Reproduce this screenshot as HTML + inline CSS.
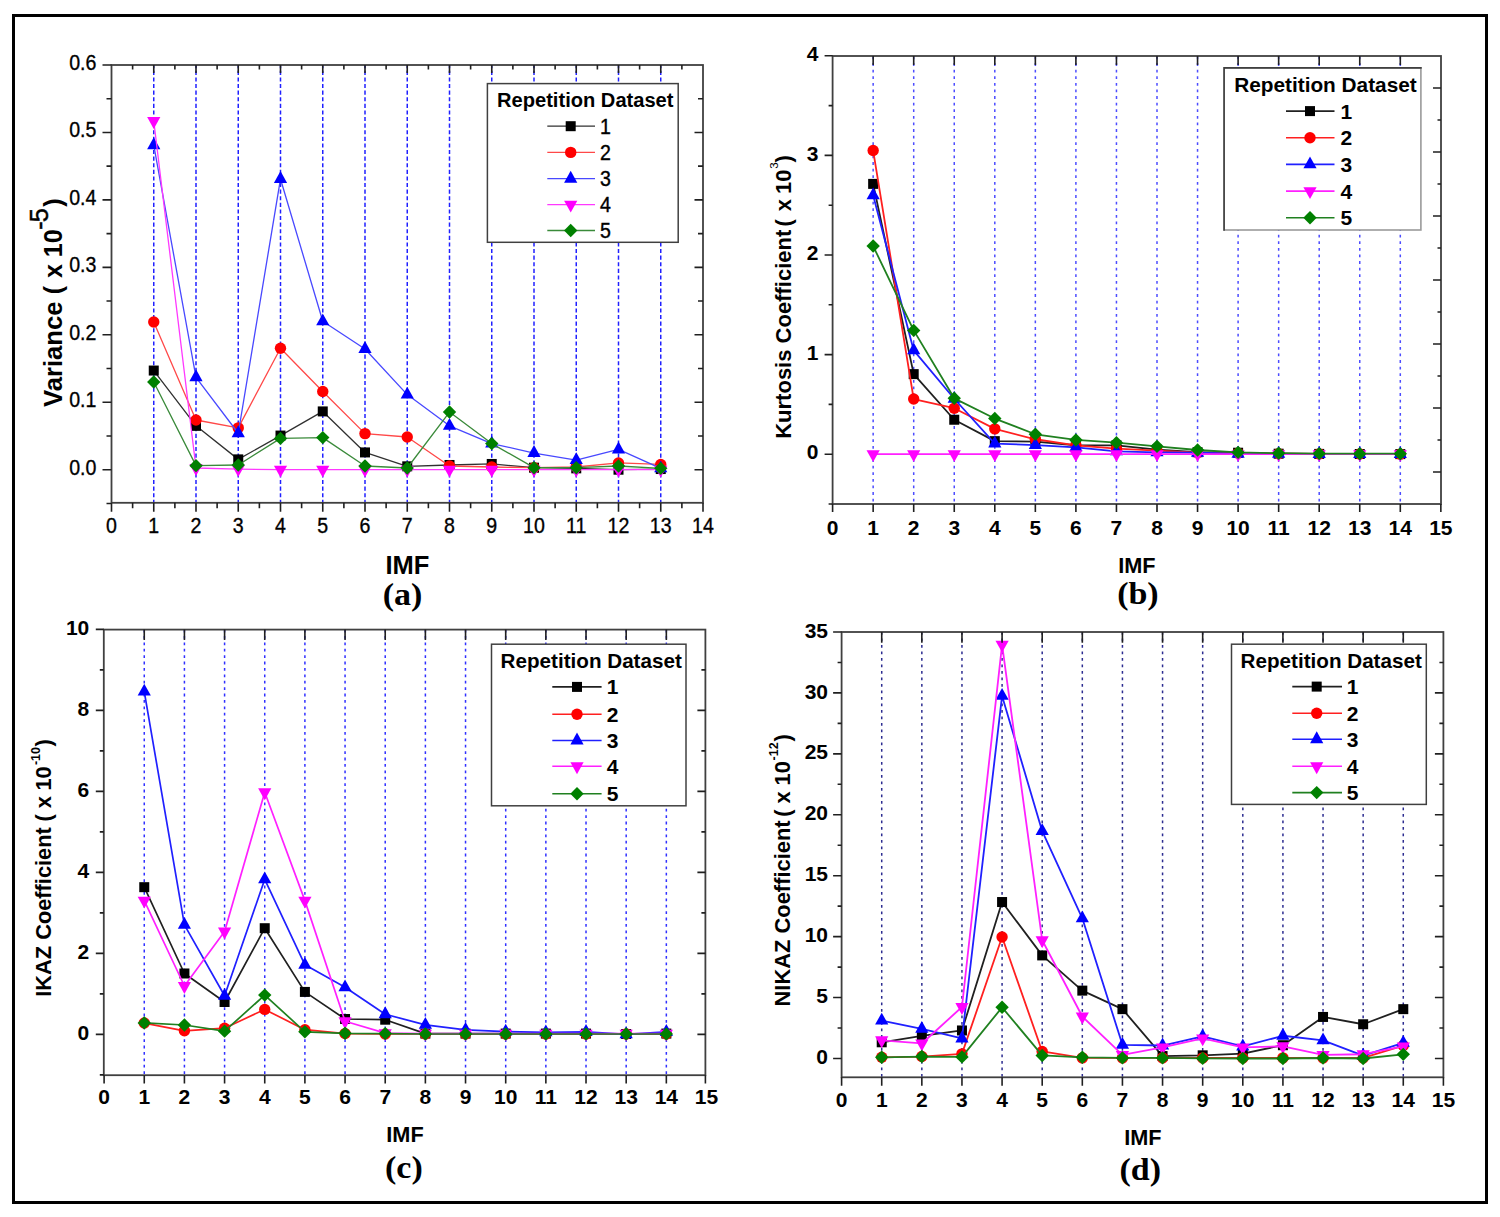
<!DOCTYPE html>
<html><head><meta charset="utf-8"><title>IMF statistics</title>
<style>html,body{margin:0;padding:0;background:#fff;overflow:hidden;}svg{display:block;}</style></head><body>
<svg width="1500" height="1217" viewBox="0 0 1500 1217" font-family='"Liberation Sans", sans-serif' fill="#000">
<rect width="1500" height="1217" fill="#fff"/>
<rect x="13.5" y="15.5" width="1473" height="1187" fill="none" stroke="#000" stroke-width="3"/>
<line x1="153.75" y1="65" x2="153.75" y2="502.8" stroke="#2020ff" stroke-width="1.5" stroke-dasharray="4.1 2.5" stroke-dashoffset="0.8"/>
<line x1="196" y1="65" x2="196" y2="502.8" stroke="#2020ff" stroke-width="1.5" stroke-dasharray="4.1 2.5" stroke-dashoffset="0.8"/>
<line x1="238.25" y1="65" x2="238.25" y2="502.8" stroke="#2020ff" stroke-width="1.5" stroke-dasharray="4.1 2.5" stroke-dashoffset="0.8"/>
<line x1="280.5" y1="65" x2="280.5" y2="502.8" stroke="#2020ff" stroke-width="1.5" stroke-dasharray="4.1 2.5" stroke-dashoffset="0.8"/>
<line x1="322.75" y1="65" x2="322.75" y2="502.8" stroke="#2020ff" stroke-width="1.5" stroke-dasharray="4.1 2.5" stroke-dashoffset="0.8"/>
<line x1="365" y1="65" x2="365" y2="502.8" stroke="#2020ff" stroke-width="1.5" stroke-dasharray="4.1 2.5" stroke-dashoffset="0.8"/>
<line x1="407.25" y1="65" x2="407.25" y2="502.8" stroke="#2020ff" stroke-width="1.5" stroke-dasharray="4.1 2.5" stroke-dashoffset="0.8"/>
<line x1="449.5" y1="65" x2="449.5" y2="502.8" stroke="#2020ff" stroke-width="1.5" stroke-dasharray="4.1 2.5" stroke-dashoffset="0.8"/>
<line x1="491.75" y1="65" x2="491.75" y2="502.8" stroke="#2020ff" stroke-width="1.5" stroke-dasharray="4.1 2.5" stroke-dashoffset="0.8"/>
<line x1="534" y1="65" x2="534" y2="502.8" stroke="#2020ff" stroke-width="1.5" stroke-dasharray="4.1 2.5" stroke-dashoffset="0.8"/>
<line x1="576.25" y1="65" x2="576.25" y2="502.8" stroke="#2020ff" stroke-width="1.5" stroke-dasharray="4.1 2.5" stroke-dashoffset="0.8"/>
<line x1="618.5" y1="65" x2="618.5" y2="502.8" stroke="#2020ff" stroke-width="1.5" stroke-dasharray="4.1 2.5" stroke-dashoffset="0.8"/>
<line x1="660.75" y1="65" x2="660.75" y2="502.8" stroke="#2020ff" stroke-width="1.5" stroke-dasharray="4.1 2.5" stroke-dashoffset="0.8"/>
<path d="M153.75 370.55L196 425.86L238.25 459.38L280.5 435.57L322.75 411.42L365 452.43L407.25 466.33L449.5 464.98L491.75 463.97L534 467.68L576.25 468.35L618.5 469.7L660.75 469.03" fill="none" stroke="#303030" stroke-width="1.3" stroke-linejoin="round"/>
<rect x="148.75" y="365.55" width="10" height="10" fill="#000000"/>
<rect x="191" y="420.86" width="10" height="10" fill="#000000"/>
<rect x="233.25" y="454.38" width="10" height="10" fill="#000000"/>
<rect x="275.5" y="430.57" width="10" height="10" fill="#000000"/>
<rect x="317.75" y="406.42" width="10" height="10" fill="#000000"/>
<rect x="360" y="447.43" width="10" height="10" fill="#000000"/>
<rect x="402.25" y="461.33" width="10" height="10" fill="#000000"/>
<rect x="444.5" y="459.98" width="10" height="10" fill="#000000"/>
<rect x="486.75" y="458.97" width="10" height="10" fill="#000000"/>
<rect x="529" y="462.68" width="10" height="10" fill="#000000"/>
<rect x="571.25" y="463.35" width="10" height="10" fill="#000000"/>
<rect x="613.5" y="464.7" width="10" height="10" fill="#000000"/>
<rect x="655.75" y="464.03" width="10" height="10" fill="#000000"/>
<path d="M153.75 321.98L196 419.99L238.25 427.88L280.5 348.29L322.75 391.46L365 433.61L407.25 436.99L449.5 465.99L491.75 467L534 467.68L576.25 467L618.5 462.95L660.75 464.44" fill="none" stroke="#ff4848" stroke-width="1.3" stroke-linejoin="round"/>
<circle cx="153.75" cy="321.98" r="5.7" fill="#ff0000"/>
<circle cx="196" cy="419.99" r="5.7" fill="#ff0000"/>
<circle cx="238.25" cy="427.88" r="5.7" fill="#ff0000"/>
<circle cx="280.5" cy="348.29" r="5.7" fill="#ff0000"/>
<circle cx="322.75" cy="391.46" r="5.7" fill="#ff0000"/>
<circle cx="365" cy="433.61" r="5.7" fill="#ff0000"/>
<circle cx="407.25" cy="436.99" r="5.7" fill="#ff0000"/>
<circle cx="449.5" cy="465.99" r="5.7" fill="#ff0000"/>
<circle cx="491.75" cy="467" r="5.7" fill="#ff0000"/>
<circle cx="534" cy="467.68" r="5.7" fill="#ff0000"/>
<circle cx="576.25" cy="467" r="5.7" fill="#ff0000"/>
<circle cx="618.5" cy="462.95" r="5.7" fill="#ff0000"/>
<circle cx="660.75" cy="464.44" r="5.7" fill="#ff0000"/>
<path d="M153.75 145.24L196 377.27L238.25 433.25L280.5 178.97L322.75 321.29L365 348.94L407.25 394.6L449.5 425.83L491.75 443.57L534 453.02L576.25 460.03L618.5 449.44L660.75 468.35" fill="none" stroke="#4848ff" stroke-width="1.3" stroke-linejoin="round"/>
<path d="M153.75 137.34L160.35 149.19L147.15 149.19Z" fill="#0000ff"/>
<path d="M196 369.37L202.6 381.22L189.4 381.22Z" fill="#0000ff"/>
<path d="M238.25 425.35L244.85 437.2L231.65 437.2Z" fill="#0000ff"/>
<path d="M280.5 171.07L287.1 182.92L273.9 182.92Z" fill="#0000ff"/>
<path d="M322.75 313.39L329.35 325.24L316.15 325.24Z" fill="#0000ff"/>
<path d="M365 341.04L371.6 352.89L358.4 352.89Z" fill="#0000ff"/>
<path d="M407.25 386.7L413.85 398.55L400.65 398.55Z" fill="#0000ff"/>
<path d="M449.5 417.93L456.1 429.78L442.9 429.78Z" fill="#0000ff"/>
<path d="M491.75 435.67L498.35 447.52L485.15 447.52Z" fill="#0000ff"/>
<path d="M534 445.12L540.6 456.97L527.4 456.97Z" fill="#0000ff"/>
<path d="M576.25 452.13L582.85 463.98L569.65 463.98Z" fill="#0000ff"/>
<path d="M618.5 441.54L625.1 453.39L611.9 453.39Z" fill="#0000ff"/>
<path d="M660.75 460.45L667.35 472.3L654.15 472.3Z" fill="#0000ff"/>
<path d="M153.75 121.01L196 468.01L238.25 469.03L280.5 469.7L322.75 469.7L365 469.7L407.25 469.7L449.5 469.7L491.75 469.7L534 469.7L576.25 469.7L618.5 469.7L660.75 469.7" fill="none" stroke="#ff38ff" stroke-width="1.3" stroke-linejoin="round"/>
<path d="M147.15 117.06L160.35 117.06L153.75 128.91Z" fill="#ff00ff"/>
<path d="M189.4 464.06L202.6 464.06L196 475.91Z" fill="#ff00ff"/>
<path d="M231.65 465.08L244.85 465.08L238.25 476.93Z" fill="#ff00ff"/>
<path d="M273.9 465.75L287.1 465.75L280.5 477.6Z" fill="#ff00ff"/>
<path d="M316.15 465.75L329.35 465.75L322.75 477.6Z" fill="#ff00ff"/>
<path d="M358.4 465.75L371.6 465.75L365 477.6Z" fill="#ff00ff"/>
<path d="M400.65 465.75L413.85 465.75L407.25 477.6Z" fill="#ff00ff"/>
<path d="M442.9 465.75L456.1 465.75L449.5 477.6Z" fill="#ff00ff"/>
<path d="M485.15 465.75L498.35 465.75L491.75 477.6Z" fill="#ff00ff"/>
<path d="M527.4 465.75L540.6 465.75L534 477.6Z" fill="#ff00ff"/>
<path d="M569.65 465.75L582.85 465.75L576.25 477.6Z" fill="#ff00ff"/>
<path d="M611.9 465.75L625.1 465.75L618.5 477.6Z" fill="#ff00ff"/>
<path d="M654.15 465.75L667.35 465.75L660.75 477.6Z" fill="#ff00ff"/>
<path d="M153.75 382.01L196 465.65L238.25 464.98L280.5 438.4L322.75 437.59L365 465.99L407.25 468.01L449.5 412.03L491.75 443.6L534 467.68L576.25 467.68L618.5 465.99L660.75 468.35" fill="none" stroke="#3a8a3a" stroke-width="1.3" stroke-linejoin="round"/>
<path d="M153.75 375.31L160.45 382.01L153.75 388.71L147.05 382.01Z" fill="#008000"/>
<path d="M196 458.95L202.7 465.65L196 472.35L189.3 465.65Z" fill="#008000"/>
<path d="M238.25 458.28L244.95 464.98L238.25 471.68L231.55 464.98Z" fill="#008000"/>
<path d="M280.5 431.7L287.2 438.4L280.5 445.1L273.8 438.4Z" fill="#008000"/>
<path d="M322.75 430.89L329.45 437.59L322.75 444.29L316.05 437.59Z" fill="#008000"/>
<path d="M365 459.29L371.7 465.99L365 472.69L358.3 465.99Z" fill="#008000"/>
<path d="M407.25 461.31L413.95 468.01L407.25 474.71L400.55 468.01Z" fill="#008000"/>
<path d="M449.5 405.33L456.2 412.03L449.5 418.73L442.8 412.03Z" fill="#008000"/>
<path d="M491.75 436.9L498.45 443.6L491.75 450.3L485.05 443.6Z" fill="#008000"/>
<path d="M534 460.98L540.7 467.68L534 474.38L527.3 467.68Z" fill="#008000"/>
<path d="M576.25 460.98L582.95 467.68L576.25 474.38L569.55 467.68Z" fill="#008000"/>
<path d="M618.5 459.29L625.2 465.99L618.5 472.69L611.8 465.99Z" fill="#008000"/>
<path d="M660.75 461.65L667.45 468.35L660.75 475.05L654.05 468.35Z" fill="#008000"/>
<rect x="111.5" y="65" width="591.5" height="437.8" fill="none" stroke="#404040" stroke-width="1.8"/>
<path d="M111.5 502.8v9M153.75 502.8v9M153.75 65v8M196 502.8v9M196 65v8M238.25 502.8v9M238.25 65v8M280.5 502.8v9M280.5 65v8M322.75 502.8v9M322.75 65v8M365 502.8v9M365 65v8M407.25 502.8v9M407.25 65v8M449.5 502.8v9M449.5 65v8M491.75 502.8v9M491.75 65v8M534 502.8v9M534 65v8M576.25 502.8v9M576.25 65v8M618.5 502.8v9M618.5 65v8M660.75 502.8v9M660.75 65v8M703 502.8v9M132.62 502.8v5.5M132.62 65v4.6M174.88 502.8v5.5M174.88 65v4.6M217.12 502.8v5.5M217.12 65v4.6M259.38 502.8v5.5M259.38 65v4.6M301.62 502.8v5.5M301.62 65v4.6M343.88 502.8v5.5M343.88 65v4.6M386.12 502.8v5.5M386.12 65v4.6M428.38 502.8v5.5M428.38 65v4.6M470.62 502.8v5.5M470.62 65v4.6M512.88 502.8v5.5M512.88 65v4.6M555.12 502.8v5.5M555.12 65v4.6M597.38 502.8v5.5M597.38 65v4.6M639.62 502.8v5.5M639.62 65v4.6M681.88 502.8v5.5M681.88 65v4.6M111.5 469.7h-9M111.5 402.25h-9M111.5 334.8h-9M111.5 267.35h-9M111.5 199.9h-9M111.5 132.45h-9M111.5 65h-9M111.5 503.43h-5M111.5 435.97h-5M111.5 368.52h-5M111.5 301.07h-5M111.5 233.62h-5M111.5 166.17h-5M111.5 98.72h-5M703 469.7h-8.5M703 402.25h-8.5M703 334.8h-8.5M703 267.35h-8.5M703 199.9h-8.5M703 132.45h-8.5M703 435.97h-5M703 368.52h-5M703 301.07h-5M703 233.62h-5M703 166.17h-5M703 98.72h-5" stroke="#202020" stroke-width="1.6" fill="none"/>
<text transform="translate(111.5 533.3) scale(0.89 1)" font-size="22" font-weight="normal" stroke="#000" stroke-width="0.35" text-anchor="middle">0</text>
<text transform="translate(153.75 533.3) scale(0.89 1)" font-size="22" font-weight="normal" stroke="#000" stroke-width="0.35" text-anchor="middle">1</text>
<text transform="translate(196 533.3) scale(0.89 1)" font-size="22" font-weight="normal" stroke="#000" stroke-width="0.35" text-anchor="middle">2</text>
<text transform="translate(238.25 533.3) scale(0.89 1)" font-size="22" font-weight="normal" stroke="#000" stroke-width="0.35" text-anchor="middle">3</text>
<text transform="translate(280.5 533.3) scale(0.89 1)" font-size="22" font-weight="normal" stroke="#000" stroke-width="0.35" text-anchor="middle">4</text>
<text transform="translate(322.75 533.3) scale(0.89 1)" font-size="22" font-weight="normal" stroke="#000" stroke-width="0.35" text-anchor="middle">5</text>
<text transform="translate(365 533.3) scale(0.89 1)" font-size="22" font-weight="normal" stroke="#000" stroke-width="0.35" text-anchor="middle">6</text>
<text transform="translate(407.25 533.3) scale(0.89 1)" font-size="22" font-weight="normal" stroke="#000" stroke-width="0.35" text-anchor="middle">7</text>
<text transform="translate(449.5 533.3) scale(0.89 1)" font-size="22" font-weight="normal" stroke="#000" stroke-width="0.35" text-anchor="middle">8</text>
<text transform="translate(491.75 533.3) scale(0.89 1)" font-size="22" font-weight="normal" stroke="#000" stroke-width="0.35" text-anchor="middle">9</text>
<text transform="translate(534 533.3) scale(0.89 1)" font-size="22" font-weight="normal" stroke="#000" stroke-width="0.35" text-anchor="middle">10</text>
<text transform="translate(576.25 533.3) scale(0.89 1)" font-size="22" font-weight="normal" stroke="#000" stroke-width="0.35" text-anchor="middle">11</text>
<text transform="translate(618.5 533.3) scale(0.89 1)" font-size="22" font-weight="normal" stroke="#000" stroke-width="0.35" text-anchor="middle">12</text>
<text transform="translate(660.75 533.3) scale(0.89 1)" font-size="22" font-weight="normal" stroke="#000" stroke-width="0.35" text-anchor="middle">13</text>
<text transform="translate(703 533.3) scale(0.89 1)" font-size="22" font-weight="normal" stroke="#000" stroke-width="0.35" text-anchor="middle">14</text>
<text transform="translate(96.4 474.7) scale(0.89 1)" font-size="22" font-weight="normal" stroke="#000" stroke-width="0.35" text-anchor="end">0.0</text>
<text transform="translate(96.4 407.25) scale(0.89 1)" font-size="22" font-weight="normal" stroke="#000" stroke-width="0.35" text-anchor="end">0.1</text>
<text transform="translate(96.4 339.8) scale(0.89 1)" font-size="22" font-weight="normal" stroke="#000" stroke-width="0.35" text-anchor="end">0.2</text>
<text transform="translate(96.4 272.35) scale(0.89 1)" font-size="22" font-weight="normal" stroke="#000" stroke-width="0.35" text-anchor="end">0.3</text>
<text transform="translate(96.4 204.9) scale(0.89 1)" font-size="22" font-weight="normal" stroke="#000" stroke-width="0.35" text-anchor="end">0.4</text>
<text transform="translate(96.4 137.45) scale(0.89 1)" font-size="22" font-weight="normal" stroke="#000" stroke-width="0.35" text-anchor="end">0.5</text>
<text transform="translate(96.4 70) scale(0.89 1)" font-size="22" font-weight="normal" stroke="#000" stroke-width="0.35" text-anchor="end">0.6</text>
<text x="407.4" y="573.6" font-size="25.5" font-weight="bold" text-anchor="middle">IMF</text>
<text transform="translate(61.6 0) rotate(-90)"><tspan x="-406.88" y="0" font-size="25.6" font-weight="bold">Variance</tspan><tspan x="-294.36" y="0" font-size="25.2" font-weight="bold">(</tspan><tspan x="-277.97" y="0" font-size="25.2" font-weight="bold">x</tspan><tspan x="-257.29" y="0" font-size="25.2" font-weight="bold">10</tspan><tspan x="-229.72" y="-13.6" font-size="25.2" font-weight="normal" stroke="#000" stroke-width="0.5">-</tspan><tspan x="-222.21" y="-13.6" font-size="25.2" font-weight="normal" stroke="#000" stroke-width="0.5">5</tspan><tspan x="-206.82" y="0" font-size="25.2" font-weight="bold">)</tspan></text>
<text transform="translate(402.5 604.5) scale(1.08 1)" font-size="31.5" font-family='"Liberation Serif", serif' font-weight="bold" text-anchor="middle">(a)</text>
<rect x="487.4" y="83.6" width="190.8" height="158.7" fill="#fff" stroke="#404040" stroke-width="1.5"/>
<text x="497" y="107" font-size="20.3" font-weight="bold" textLength="176.5" lengthAdjust="spacingAndGlyphs">Repetition Dataset</text>
<line x1="547.3" y1="126.2" x2="595" y2="126.2" stroke="#303030" stroke-width="1.3"/>
<rect x="565.7" y="121.2" width="10" height="10" fill="#000000"/>
<text transform="translate(600 133.8) scale(0.89 1)" font-size="22" font-weight="normal" stroke="#000" stroke-width="0.4">1</text>
<line x1="547.3" y1="152.4" x2="595" y2="152.4" stroke="#ff4848" stroke-width="1.3"/>
<circle cx="570.7" cy="152.4" r="5.7" fill="#ff0000"/>
<text transform="translate(600 160) scale(0.89 1)" font-size="22" font-weight="normal" stroke="#000" stroke-width="0.4">2</text>
<line x1="547.3" y1="178.7" x2="595" y2="178.7" stroke="#4848ff" stroke-width="1.3"/>
<path d="M570.7 170.8L577.3 182.65L564.1 182.65Z" fill="#0000ff"/>
<text transform="translate(600 186.3) scale(0.89 1)" font-size="22" font-weight="normal" stroke="#000" stroke-width="0.4">3</text>
<line x1="547.3" y1="204.6" x2="595" y2="204.6" stroke="#ff38ff" stroke-width="1.3"/>
<path d="M564.1 200.65L577.3 200.65L570.7 212.5Z" fill="#ff00ff"/>
<text transform="translate(600 212.2) scale(0.89 1)" font-size="22" font-weight="normal" stroke="#000" stroke-width="0.4">4</text>
<line x1="547.3" y1="230.5" x2="595" y2="230.5" stroke="#3a8a3a" stroke-width="1.3"/>
<path d="M570.7 223.8L577.4 230.5L570.7 237.2L564 230.5Z" fill="#008000"/>
<text transform="translate(600 238.1) scale(0.89 1)" font-size="22" font-weight="normal" stroke="#000" stroke-width="0.4">5</text>
<line x1="873.15" y1="56" x2="873.15" y2="504" stroke="#4c4cff" stroke-width="1.5" stroke-dasharray="2.8 3.8" stroke-dashoffset="-0.5"/>
<line x1="913.7" y1="56" x2="913.7" y2="504" stroke="#4c4cff" stroke-width="1.5" stroke-dasharray="2.8 3.8" stroke-dashoffset="-0.5"/>
<line x1="954.25" y1="56" x2="954.25" y2="504" stroke="#4c4cff" stroke-width="1.5" stroke-dasharray="2.8 3.8" stroke-dashoffset="-0.5"/>
<line x1="994.8" y1="56" x2="994.8" y2="504" stroke="#4c4cff" stroke-width="1.5" stroke-dasharray="2.8 3.8" stroke-dashoffset="-0.5"/>
<line x1="1035.35" y1="56" x2="1035.35" y2="504" stroke="#4c4cff" stroke-width="1.5" stroke-dasharray="2.8 3.8" stroke-dashoffset="-0.5"/>
<line x1="1075.9" y1="56" x2="1075.9" y2="504" stroke="#4c4cff" stroke-width="1.5" stroke-dasharray="2.8 3.8" stroke-dashoffset="-0.5"/>
<line x1="1116.45" y1="56" x2="1116.45" y2="504" stroke="#4c4cff" stroke-width="1.5" stroke-dasharray="2.8 3.8" stroke-dashoffset="-0.5"/>
<line x1="1157" y1="56" x2="1157" y2="504" stroke="#4c4cff" stroke-width="1.5" stroke-dasharray="2.8 3.8" stroke-dashoffset="-0.5"/>
<line x1="1197.55" y1="56" x2="1197.55" y2="504" stroke="#4c4cff" stroke-width="1.5" stroke-dasharray="2.8 3.8" stroke-dashoffset="-0.5"/>
<line x1="1238.1" y1="56" x2="1238.1" y2="504" stroke="#4c4cff" stroke-width="1.5" stroke-dasharray="2.8 3.8" stroke-dashoffset="-0.5"/>
<line x1="1278.65" y1="56" x2="1278.65" y2="504" stroke="#4c4cff" stroke-width="1.5" stroke-dasharray="2.8 3.8" stroke-dashoffset="-0.5"/>
<line x1="1319.2" y1="56" x2="1319.2" y2="504" stroke="#4c4cff" stroke-width="1.5" stroke-dasharray="2.8 3.8" stroke-dashoffset="-0.5"/>
<line x1="1359.75" y1="56" x2="1359.75" y2="504" stroke="#4c4cff" stroke-width="1.5" stroke-dasharray="2.8 3.8" stroke-dashoffset="-0.5"/>
<line x1="1400.3" y1="56" x2="1400.3" y2="504" stroke="#4c4cff" stroke-width="1.5" stroke-dasharray="2.8 3.8" stroke-dashoffset="-0.5"/>
<path d="M873.15 183.89L913.7 374.12L954.25 419.74L994.8 441.15L1035.35 441.55L1075.9 445.24L1116.45 445.34L1157 449.72L1197.55 452.21L1238.1 452.71L1278.65 453.7L1319.2 453.9L1359.75 454L1400.3 454.1" fill="none" stroke="#202020" stroke-width="1.8" stroke-linejoin="round"/>
<rect x="868.15" y="178.89" width="10" height="10" fill="#000000"/>
<rect x="908.7" y="369.12" width="10" height="10" fill="#000000"/>
<rect x="949.25" y="414.74" width="10" height="10" fill="#000000"/>
<rect x="989.8" y="436.15" width="10" height="10" fill="#000000"/>
<rect x="1030.35" y="436.55" width="10" height="10" fill="#000000"/>
<rect x="1070.9" y="440.24" width="10" height="10" fill="#000000"/>
<rect x="1111.45" y="440.34" width="10" height="10" fill="#000000"/>
<rect x="1152" y="444.72" width="10" height="10" fill="#000000"/>
<rect x="1192.55" y="447.21" width="10" height="10" fill="#000000"/>
<rect x="1233.1" y="447.71" width="10" height="10" fill="#000000"/>
<rect x="1273.65" y="448.7" width="10" height="10" fill="#000000"/>
<rect x="1314.2" y="448.9" width="10" height="10" fill="#000000"/>
<rect x="1354.75" y="449" width="10" height="10" fill="#000000"/>
<rect x="1395.3" y="449.1" width="10" height="10" fill="#000000"/>
<path d="M873.15 150.52L913.7 399.02L954.25 408.18L994.8 428.9L1035.35 439.26L1075.9 445.34L1116.45 448.72L1157 450.71L1197.55 452.71L1238.1 453.2L1278.65 453.7L1319.2 453.9L1359.75 454L1400.3 454.1" fill="none" stroke="#ff2020" stroke-width="1.8" stroke-linejoin="round"/>
<circle cx="873.15" cy="150.52" r="5.7" fill="#ff0000"/>
<circle cx="913.7" cy="399.02" r="5.7" fill="#ff0000"/>
<circle cx="954.25" cy="408.18" r="5.7" fill="#ff0000"/>
<circle cx="994.8" cy="428.9" r="5.7" fill="#ff0000"/>
<circle cx="1035.35" cy="439.26" r="5.7" fill="#ff0000"/>
<circle cx="1075.9" cy="445.34" r="5.7" fill="#ff0000"/>
<circle cx="1116.45" cy="448.72" r="5.7" fill="#ff0000"/>
<circle cx="1157" cy="450.71" r="5.7" fill="#ff0000"/>
<circle cx="1197.55" cy="452.71" r="5.7" fill="#ff0000"/>
<circle cx="1238.1" cy="453.2" r="5.7" fill="#ff0000"/>
<circle cx="1278.65" cy="453.7" r="5.7" fill="#ff0000"/>
<circle cx="1319.2" cy="453.9" r="5.7" fill="#ff0000"/>
<circle cx="1359.75" cy="454" r="5.7" fill="#ff0000"/>
<circle cx="1400.3" cy="454.1" r="5.7" fill="#ff0000"/>
<path d="M873.15 195.35L913.7 350.42L954.25 398.73L994.8 443.55L1035.35 445.04L1075.9 447.33L1116.45 451.31L1157 452.41L1197.55 452.71L1238.1 453.7L1278.65 453.9L1319.2 454L1359.75 454.1L1400.3 454.1" fill="none" stroke="#2020ff" stroke-width="1.8" stroke-linejoin="round"/>
<path d="M873.15 187.45L879.75 199.3L866.55 199.3Z" fill="#0000ff"/>
<path d="M913.7 342.52L920.3 354.37L907.1 354.37Z" fill="#0000ff"/>
<path d="M954.25 390.83L960.85 402.68L947.65 402.68Z" fill="#0000ff"/>
<path d="M994.8 435.65L1001.4 447.5L988.2 447.5Z" fill="#0000ff"/>
<path d="M1035.35 437.14L1041.95 448.99L1028.75 448.99Z" fill="#0000ff"/>
<path d="M1075.9 439.43L1082.5 451.28L1069.3 451.28Z" fill="#0000ff"/>
<path d="M1116.45 443.41L1123.05 455.26L1109.85 455.26Z" fill="#0000ff"/>
<path d="M1157 444.51L1163.6 456.36L1150.4 456.36Z" fill="#0000ff"/>
<path d="M1197.55 444.81L1204.15 456.66L1190.95 456.66Z" fill="#0000ff"/>
<path d="M1238.1 445.8L1244.7 457.65L1231.5 457.65Z" fill="#0000ff"/>
<path d="M1278.65 446L1285.25 457.85L1272.05 457.85Z" fill="#0000ff"/>
<path d="M1319.2 446.1L1325.8 457.95L1312.6 457.95Z" fill="#0000ff"/>
<path d="M1359.75 446.2L1366.35 458.05L1353.15 458.05Z" fill="#0000ff"/>
<path d="M1400.3 446.2L1406.9 458.05L1393.7 458.05Z" fill="#0000ff"/>
<path d="M873.15 454.2L913.7 454.2L954.25 454.2L994.8 454.2L1035.35 454.2L1075.9 454.2L1116.45 454.2L1157 454.2L1197.55 454.2L1238.1 454.2L1278.65 454.2L1319.2 454.2L1359.75 454.2L1400.3 454.2" fill="none" stroke="#ff20ff" stroke-width="1.8" stroke-linejoin="round"/>
<path d="M866.55 450.25L879.75 450.25L873.15 462.1Z" fill="#ff00ff"/>
<path d="M907.1 450.25L920.3 450.25L913.7 462.1Z" fill="#ff00ff"/>
<path d="M947.65 450.25L960.85 450.25L954.25 462.1Z" fill="#ff00ff"/>
<path d="M988.2 450.25L1001.4 450.25L994.8 462.1Z" fill="#ff00ff"/>
<path d="M1028.75 450.25L1041.95 450.25L1035.35 462.1Z" fill="#ff00ff"/>
<path d="M1069.3 450.25L1082.5 450.25L1075.9 462.1Z" fill="#ff00ff"/>
<path d="M1109.85 450.25L1123.05 450.25L1116.45 462.1Z" fill="#ff00ff"/>
<path d="M1150.4 450.25L1163.6 450.25L1157 462.1Z" fill="#ff00ff"/>
<path d="M1190.95 450.25L1204.15 450.25L1197.55 462.1Z" fill="#ff00ff"/>
<path d="M1231.5 450.25L1244.7 450.25L1238.1 462.1Z" fill="#ff00ff"/>
<path d="M1272.05 450.25L1285.25 450.25L1278.65 462.1Z" fill="#ff00ff"/>
<path d="M1312.6 450.25L1325.8 450.25L1319.2 462.1Z" fill="#ff00ff"/>
<path d="M1353.15 450.25L1366.35 450.25L1359.75 462.1Z" fill="#ff00ff"/>
<path d="M1393.7 450.25L1406.9 450.25L1400.3 462.1Z" fill="#ff00ff"/>
<path d="M873.15 246.04L913.7 330.4L954.25 398.32L994.8 418.54L1035.35 434.28L1075.9 439.96L1116.45 442.65L1157 446.33L1197.55 450.02L1238.1 452.41L1278.65 453.2L1319.2 453.6L1359.75 453.7L1400.3 453.7" fill="none" stroke="#208020" stroke-width="1.8" stroke-linejoin="round"/>
<path d="M873.15 239.34L879.85 246.04L873.15 252.74L866.45 246.04Z" fill="#008000"/>
<path d="M913.7 323.7L920.4 330.4L913.7 337.1L907 330.4Z" fill="#008000"/>
<path d="M954.25 391.62L960.95 398.32L954.25 405.02L947.55 398.32Z" fill="#008000"/>
<path d="M994.8 411.84L1001.5 418.54L994.8 425.24L988.1 418.54Z" fill="#008000"/>
<path d="M1035.35 427.58L1042.05 434.28L1035.35 440.98L1028.65 434.28Z" fill="#008000"/>
<path d="M1075.9 433.26L1082.6 439.96L1075.9 446.66L1069.2 439.96Z" fill="#008000"/>
<path d="M1116.45 435.95L1123.15 442.65L1116.45 449.35L1109.75 442.65Z" fill="#008000"/>
<path d="M1157 439.63L1163.7 446.33L1157 453.03L1150.3 446.33Z" fill="#008000"/>
<path d="M1197.55 443.32L1204.25 450.02L1197.55 456.72L1190.85 450.02Z" fill="#008000"/>
<path d="M1238.1 445.71L1244.8 452.41L1238.1 459.11L1231.4 452.41Z" fill="#008000"/>
<path d="M1278.65 446.5L1285.35 453.2L1278.65 459.9L1271.95 453.2Z" fill="#008000"/>
<path d="M1319.2 446.9L1325.9 453.6L1319.2 460.3L1312.5 453.6Z" fill="#008000"/>
<path d="M1359.75 447L1366.45 453.7L1359.75 460.4L1353.05 453.7Z" fill="#008000"/>
<path d="M1400.3 447L1407 453.7L1400.3 460.4L1393.6 453.7Z" fill="#008000"/>
<rect x="832.6" y="56" width="608.4" height="448" fill="none" stroke="#404040" stroke-width="1.8"/>
<path d="M832.6 504v8M873.15 504v8M873.15 56v9M913.7 504v8M913.7 56v9M954.25 504v8M954.25 56v9M994.8 504v8M994.8 56v9M1035.35 504v8M1035.35 56v9M1075.9 504v8M1075.9 56v9M1116.45 504v8M1116.45 56v9M1157 504v8M1157 56v9M1197.55 504v8M1197.55 56v9M1238.1 504v8M1238.1 56v9M1278.65 504v8M1278.65 56v9M1319.2 504v8M1319.2 56v9M1359.75 504v8M1359.75 56v9M1400.3 504v8M1400.3 56v9M1440.85 504v8M832.6 454.2h-8M832.6 354.6h-8M832.6 255h-8M832.6 155.4h-8M832.6 55.8h-8M832.6 504h-4M832.6 404.4h-4M832.6 304.8h-4M832.6 205.2h-4M832.6 105.6h-4M1441 88h-8M1441 120h-3.5M1441 152h-8M1441 184h-3.5M1441 216h-8M1441 248h-3.5M1441 280h-8M1441 312h-3.5M1441 344h-8M1441 376h-3.5M1441 408h-8M1441 440h-3.5M1441 472h-8" stroke="#202020" stroke-width="1.6" fill="none"/>
<text x="832.6" y="534.8" font-size="21" font-weight="bold" text-anchor="middle">0</text>
<text x="873.15" y="534.8" font-size="21" font-weight="bold" text-anchor="middle">1</text>
<text x="913.7" y="534.8" font-size="21" font-weight="bold" text-anchor="middle">2</text>
<text x="954.25" y="534.8" font-size="21" font-weight="bold" text-anchor="middle">3</text>
<text x="994.8" y="534.8" font-size="21" font-weight="bold" text-anchor="middle">4</text>
<text x="1035.35" y="534.8" font-size="21" font-weight="bold" text-anchor="middle">5</text>
<text x="1075.9" y="534.8" font-size="21" font-weight="bold" text-anchor="middle">6</text>
<text x="1116.45" y="534.8" font-size="21" font-weight="bold" text-anchor="middle">7</text>
<text x="1157" y="534.8" font-size="21" font-weight="bold" text-anchor="middle">8</text>
<text x="1197.55" y="534.8" font-size="21" font-weight="bold" text-anchor="middle">9</text>
<text x="1238.1" y="534.8" font-size="21" font-weight="bold" text-anchor="middle">10</text>
<text x="1278.65" y="534.8" font-size="21" font-weight="bold" text-anchor="middle">11</text>
<text x="1319.2" y="534.8" font-size="21" font-weight="bold" text-anchor="middle">12</text>
<text x="1359.75" y="534.8" font-size="21" font-weight="bold" text-anchor="middle">13</text>
<text x="1400.3" y="534.8" font-size="21" font-weight="bold" text-anchor="middle">14</text>
<text x="1440.85" y="534.8" font-size="21" font-weight="bold" text-anchor="middle">15</text>
<text x="818.5" y="459.4" font-size="21" font-weight="bold" text-anchor="end">0</text>
<text x="818.5" y="359.8" font-size="21" font-weight="bold" text-anchor="end">1</text>
<text x="818.5" y="260.2" font-size="21" font-weight="bold" text-anchor="end">2</text>
<text x="818.5" y="160.6" font-size="21" font-weight="bold" text-anchor="end">3</text>
<text x="818.5" y="61" font-size="21" font-weight="bold" text-anchor="end">4</text>
<text x="1136.8" y="572.7" font-size="21.7" font-weight="bold" text-anchor="middle">IMF</text>
<text transform="translate(791 0) rotate(-90)"><tspan x="-438.77" y="0" font-size="22" font-weight="bold">Kurtosis Coefficient</tspan><tspan x="-226.6" y="0" font-size="22" font-weight="bold">(</tspan><tspan x="-211.15" y="0" font-size="22" font-weight="bold">x</tspan><tspan x="-193.99" y="0" font-size="22" font-weight="bold">10</tspan><tspan x="-168.74" y="-12.8" font-size="11.5" font-weight="normal">3</tspan><tspan x="-162.42" y="0" font-size="22" font-weight="bold">)</tspan></text>
<text transform="translate(1137.9 604.3) scale(1.08 1)" font-size="31.5" font-family='"Liberation Serif", serif' font-weight="bold" text-anchor="middle">(b)</text>
<rect x="1224.1" y="67.9" width="196.8" height="162.1" fill="#fff" stroke="#9a9a9a" stroke-width="1.6"/>
<path d="M1224.1 230.8V67.9H1421.7" fill="none" stroke="#404040" stroke-width="1.6"/>
<text x="1234.2" y="91.9" font-size="21" font-weight="bold" textLength="182.5" lengthAdjust="spacingAndGlyphs">Repetition Dataset</text>
<line x1="1286" y1="111.1" x2="1334.5" y2="111.1" stroke="#202020" stroke-width="1.6"/>
<rect x="1305" y="106.1" width="10" height="10" fill="#000000"/>
<text x="1340.5" y="118.5" font-size="21" font-weight="bold">1</text>
<line x1="1286" y1="137.7" x2="1334.5" y2="137.7" stroke="#ff2020" stroke-width="1.6"/>
<circle cx="1310" cy="137.7" r="5.7" fill="#ff0000"/>
<text x="1340.5" y="145.1" font-size="21" font-weight="bold">2</text>
<line x1="1286" y1="164.4" x2="1334.5" y2="164.4" stroke="#2020ff" stroke-width="1.6"/>
<path d="M1310 156.5L1316.6 168.35L1303.4 168.35Z" fill="#0000ff"/>
<text x="1340.5" y="171.8" font-size="21" font-weight="bold">3</text>
<line x1="1286" y1="191.1" x2="1334.5" y2="191.1" stroke="#ff20ff" stroke-width="1.6"/>
<path d="M1303.4 187.15L1316.6 187.15L1310 199Z" fill="#ff00ff"/>
<text x="1340.5" y="198.5" font-size="21" font-weight="bold">4</text>
<line x1="1286" y1="217.7" x2="1334.5" y2="217.7" stroke="#208020" stroke-width="1.6"/>
<path d="M1310 211L1316.7 217.7L1310 224.4L1303.3 217.7Z" fill="#008000"/>
<text x="1340.5" y="225.1" font-size="21" font-weight="bold">5</text>
<line x1="144.26" y1="629.6" x2="144.26" y2="1075.2" stroke="#3030ff" stroke-width="1.5" stroke-dasharray="2.8 3.6" stroke-dashoffset="0"/>
<line x1="184.42" y1="629.6" x2="184.42" y2="1075.2" stroke="#3030ff" stroke-width="1.5" stroke-dasharray="2.8 3.6" stroke-dashoffset="0"/>
<line x1="224.58" y1="629.6" x2="224.58" y2="1075.2" stroke="#3030ff" stroke-width="1.5" stroke-dasharray="2.8 3.6" stroke-dashoffset="0"/>
<line x1="264.74" y1="629.6" x2="264.74" y2="1075.2" stroke="#3030ff" stroke-width="1.5" stroke-dasharray="2.8 3.6" stroke-dashoffset="0"/>
<line x1="304.9" y1="629.6" x2="304.9" y2="1075.2" stroke="#3030ff" stroke-width="1.5" stroke-dasharray="2.8 3.6" stroke-dashoffset="0"/>
<line x1="345.06" y1="629.6" x2="345.06" y2="1075.2" stroke="#3030ff" stroke-width="1.5" stroke-dasharray="2.8 3.6" stroke-dashoffset="0"/>
<line x1="385.22" y1="629.6" x2="385.22" y2="1075.2" stroke="#3030ff" stroke-width="1.5" stroke-dasharray="2.8 3.6" stroke-dashoffset="0"/>
<line x1="425.38" y1="629.6" x2="425.38" y2="1075.2" stroke="#3030ff" stroke-width="1.5" stroke-dasharray="2.8 3.6" stroke-dashoffset="0"/>
<line x1="465.54" y1="629.6" x2="465.54" y2="1075.2" stroke="#3030ff" stroke-width="1.5" stroke-dasharray="2.8 3.6" stroke-dashoffset="0"/>
<line x1="505.7" y1="629.6" x2="505.7" y2="1075.2" stroke="#3030ff" stroke-width="1.5" stroke-dasharray="2.8 3.6" stroke-dashoffset="0"/>
<line x1="545.86" y1="629.6" x2="545.86" y2="1075.2" stroke="#3030ff" stroke-width="1.5" stroke-dasharray="2.8 3.6" stroke-dashoffset="0"/>
<line x1="586.02" y1="629.6" x2="586.02" y2="1075.2" stroke="#3030ff" stroke-width="1.5" stroke-dasharray="2.8 3.6" stroke-dashoffset="0"/>
<line x1="626.18" y1="629.6" x2="626.18" y2="1075.2" stroke="#3030ff" stroke-width="1.5" stroke-dasharray="2.8 3.6" stroke-dashoffset="0"/>
<line x1="666.34" y1="629.6" x2="666.34" y2="1075.2" stroke="#3030ff" stroke-width="1.5" stroke-dasharray="2.8 3.6" stroke-dashoffset="0"/>
<path d="M144.26 887.18L184.42 973.49L224.58 1002L264.74 928.21L304.9 991.92L345.06 1019.01L385.22 1019.7L425.38 1033.59L465.54 1033.59L505.7 1033.59L545.86 1033.59L586.02 1033.59L626.18 1034L666.34 1033.59" fill="none" stroke="#202020" stroke-width="1.7" stroke-linejoin="round"/>
<rect x="139.26" y="882.18" width="10" height="10" fill="#000000"/>
<rect x="179.42" y="968.49" width="10" height="10" fill="#000000"/>
<rect x="219.58" y="997" width="10" height="10" fill="#000000"/>
<rect x="259.74" y="923.21" width="10" height="10" fill="#000000"/>
<rect x="299.9" y="986.92" width="10" height="10" fill="#000000"/>
<rect x="340.06" y="1014.01" width="10" height="10" fill="#000000"/>
<rect x="380.22" y="1014.7" width="10" height="10" fill="#000000"/>
<rect x="420.38" y="1028.59" width="10" height="10" fill="#000000"/>
<rect x="460.54" y="1028.59" width="10" height="10" fill="#000000"/>
<rect x="500.7" y="1028.59" width="10" height="10" fill="#000000"/>
<rect x="540.86" y="1028.59" width="10" height="10" fill="#000000"/>
<rect x="581.02" y="1028.59" width="10" height="10" fill="#000000"/>
<rect x="621.18" y="1029" width="10" height="10" fill="#000000"/>
<rect x="661.34" y="1028.59" width="10" height="10" fill="#000000"/>
<path d="M144.26 1023.06L184.42 1030.8L224.58 1028.2L264.74 1009.41L304.9 1029.7L345.06 1033.59L385.22 1034L425.38 1034L465.54 1034L505.7 1034L545.86 1034L586.02 1034L626.18 1034L666.34 1034" fill="none" stroke="#ff2020" stroke-width="1.7" stroke-linejoin="round"/>
<circle cx="144.26" cy="1023.06" r="5.7" fill="#ff0000"/>
<circle cx="184.42" cy="1030.8" r="5.7" fill="#ff0000"/>
<circle cx="224.58" cy="1028.2" r="5.7" fill="#ff0000"/>
<circle cx="264.74" cy="1009.41" r="5.7" fill="#ff0000"/>
<circle cx="304.9" cy="1029.7" r="5.7" fill="#ff0000"/>
<circle cx="345.06" cy="1033.59" r="5.7" fill="#ff0000"/>
<circle cx="385.22" cy="1034" r="5.7" fill="#ff0000"/>
<circle cx="425.38" cy="1034" r="5.7" fill="#ff0000"/>
<circle cx="465.54" cy="1034" r="5.7" fill="#ff0000"/>
<circle cx="505.7" cy="1034" r="5.7" fill="#ff0000"/>
<circle cx="545.86" cy="1034" r="5.7" fill="#ff0000"/>
<circle cx="586.02" cy="1034" r="5.7" fill="#ff0000"/>
<circle cx="626.18" cy="1034" r="5.7" fill="#ff0000"/>
<circle cx="666.34" cy="1034" r="5.7" fill="#ff0000"/>
<path d="M144.26 691.54L184.42 924.9L224.58 995.78L264.74 879.38L304.9 964.8L345.06 987.31L385.22 1014.21L425.38 1024.9L465.54 1029.92L505.7 1031.57L545.86 1032.38L586.02 1031.97L626.18 1034.4L666.34 1031.97" fill="none" stroke="#2020ff" stroke-width="1.7" stroke-linejoin="round"/>
<path d="M144.26 683.64L150.86 695.49L137.66 695.49Z" fill="#0000ff"/>
<path d="M184.42 917L191.02 928.85L177.82 928.85Z" fill="#0000ff"/>
<path d="M224.58 987.88L231.18 999.73L217.98 999.73Z" fill="#0000ff"/>
<path d="M264.74 871.48L271.34 883.33L258.14 883.33Z" fill="#0000ff"/>
<path d="M304.9 956.9L311.5 968.75L298.3 968.75Z" fill="#0000ff"/>
<path d="M345.06 979.41L351.66 991.26L338.46 991.26Z" fill="#0000ff"/>
<path d="M385.22 1006.31L391.82 1018.16L378.62 1018.16Z" fill="#0000ff"/>
<path d="M425.38 1017L431.98 1028.85L418.78 1028.85Z" fill="#0000ff"/>
<path d="M465.54 1022.02L472.14 1033.87L458.94 1033.87Z" fill="#0000ff"/>
<path d="M505.7 1023.67L512.3 1035.52L499.1 1035.52Z" fill="#0000ff"/>
<path d="M545.86 1024.47L552.46 1036.33L539.26 1036.33Z" fill="#0000ff"/>
<path d="M586.02 1024.07L592.62 1035.92L579.42 1035.92Z" fill="#0000ff"/>
<path d="M626.18 1026.5L632.78 1038.35L619.58 1038.35Z" fill="#0000ff"/>
<path d="M666.34 1024.07L672.94 1035.92L659.74 1035.92Z" fill="#0000ff"/>
<path d="M144.26 900.61L184.42 985.99L224.58 931.56L264.74 792.24L304.9 900.61L345.06 1021.3L385.22 1033.19L425.38 1033.59L465.54 1033.59L505.7 1033.59L545.86 1033.59L586.02 1033.59L626.18 1033.59L666.34 1033.59" fill="none" stroke="#ff20ff" stroke-width="1.7" stroke-linejoin="round"/>
<path d="M137.66 896.66L150.86 896.66L144.26 908.51Z" fill="#ff00ff"/>
<path d="M177.82 982.04L191.02 982.04L184.42 993.89Z" fill="#ff00ff"/>
<path d="M217.98 927.61L231.18 927.61L224.58 939.46Z" fill="#ff00ff"/>
<path d="M258.14 788.29L271.34 788.29L264.74 800.14Z" fill="#ff00ff"/>
<path d="M298.3 896.66L311.5 896.66L304.9 908.51Z" fill="#ff00ff"/>
<path d="M338.46 1017.35L351.66 1017.35L345.06 1029.2Z" fill="#ff00ff"/>
<path d="M378.62 1029.24L391.82 1029.24L385.22 1041.09Z" fill="#ff00ff"/>
<path d="M418.78 1029.64L431.98 1029.64L425.38 1041.49Z" fill="#ff00ff"/>
<path d="M458.94 1029.64L472.14 1029.64L465.54 1041.49Z" fill="#ff00ff"/>
<path d="M499.1 1029.64L512.3 1029.64L505.7 1041.49Z" fill="#ff00ff"/>
<path d="M539.26 1029.64L552.46 1029.64L545.86 1041.49Z" fill="#ff00ff"/>
<path d="M579.42 1029.64L592.62 1029.64L586.02 1041.49Z" fill="#ff00ff"/>
<path d="M619.58 1029.64L632.78 1029.64L626.18 1041.49Z" fill="#ff00ff"/>
<path d="M659.74 1029.64L672.94 1029.64L666.34 1041.49Z" fill="#ff00ff"/>
<path d="M144.26 1022.9L184.42 1025L224.58 1031.16L264.74 995.12L304.9 1031.81L345.06 1033.31L385.22 1033.59L425.38 1034L465.54 1034L505.7 1034L545.86 1034L586.02 1034L626.18 1034L666.34 1034" fill="none" stroke="#208020" stroke-width="1.7" stroke-linejoin="round"/>
<path d="M144.26 1016.2L150.96 1022.9L144.26 1029.6L137.56 1022.9Z" fill="#008000"/>
<path d="M184.42 1018.3L191.12 1025L184.42 1031.7L177.72 1025Z" fill="#008000"/>
<path d="M224.58 1024.46L231.28 1031.16L224.58 1037.86L217.88 1031.16Z" fill="#008000"/>
<path d="M264.74 988.42L271.44 995.12L264.74 1001.82L258.04 995.12Z" fill="#008000"/>
<path d="M304.9 1025.11L311.6 1031.81L304.9 1038.51L298.2 1031.81Z" fill="#008000"/>
<path d="M345.06 1026.61L351.76 1033.31L345.06 1040.01L338.36 1033.31Z" fill="#008000"/>
<path d="M385.22 1026.89L391.92 1033.59L385.22 1040.29L378.52 1033.59Z" fill="#008000"/>
<path d="M425.38 1027.3L432.08 1034L425.38 1040.7L418.68 1034Z" fill="#008000"/>
<path d="M465.54 1027.3L472.24 1034L465.54 1040.7L458.84 1034Z" fill="#008000"/>
<path d="M505.7 1027.3L512.4 1034L505.7 1040.7L499 1034Z" fill="#008000"/>
<path d="M545.86 1027.3L552.56 1034L545.86 1040.7L539.16 1034Z" fill="#008000"/>
<path d="M586.02 1027.3L592.72 1034L586.02 1040.7L579.32 1034Z" fill="#008000"/>
<path d="M626.18 1027.3L632.88 1034L626.18 1040.7L619.48 1034Z" fill="#008000"/>
<path d="M666.34 1027.3L673.04 1034L666.34 1040.7L659.64 1034Z" fill="#008000"/>
<rect x="103.8" y="629.6" width="601.6" height="445.6" fill="none" stroke="#404040" stroke-width="1.8"/>
<path d="M104.1 1075.2v8.4M144.26 1075.2v8.4M144.26 629.6v10.5M184.42 1075.2v8.4M184.42 629.6v10.5M224.58 1075.2v8.4M224.58 629.6v10.5M264.74 1075.2v8.4M264.74 629.6v10.5M304.9 1075.2v8.4M304.9 629.6v10.5M345.06 1075.2v8.4M345.06 629.6v10.5M385.22 1075.2v8.4M385.22 629.6v10.5M425.38 1075.2v8.4M425.38 629.6v10.5M465.54 1075.2v8.4M465.54 629.6v10.5M505.7 1075.2v8.4M505.7 629.6v10.5M545.86 1075.2v8.4M545.86 629.6v10.5M586.02 1075.2v8.4M586.02 629.6v10.5M626.18 1075.2v8.4M626.18 629.6v10.5M666.34 1075.2v8.4M666.34 629.6v10.5M705.4 1075.2v8.4M103.8 1034.4h-8M103.8 953.4h-8M103.8 872.4h-8M103.8 791.4h-8M103.8 710.4h-8M103.8 629.4h-8M103.8 1074.9h-4M103.8 993.9h-4M103.8 912.9h-4M103.8 831.9h-4M103.8 750.9h-4M103.8 669.9h-4M705.4 1034.4h-8M705.4 953.4h-8M705.4 872.4h-8M705.4 791.4h-8M705.4 710.4h-8M705.4 993.9h-4M705.4 912.9h-4M705.4 831.9h-4M705.4 750.9h-4M705.4 669.9h-4" stroke="#202020" stroke-width="1.6" fill="none"/>
<text x="104.1" y="1104.2" font-size="21" font-weight="bold" text-anchor="middle">0</text>
<text x="144.26" y="1104.2" font-size="21" font-weight="bold" text-anchor="middle">1</text>
<text x="184.42" y="1104.2" font-size="21" font-weight="bold" text-anchor="middle">2</text>
<text x="224.58" y="1104.2" font-size="21" font-weight="bold" text-anchor="middle">3</text>
<text x="264.74" y="1104.2" font-size="21" font-weight="bold" text-anchor="middle">4</text>
<text x="304.9" y="1104.2" font-size="21" font-weight="bold" text-anchor="middle">5</text>
<text x="345.06" y="1104.2" font-size="21" font-weight="bold" text-anchor="middle">6</text>
<text x="385.22" y="1104.2" font-size="21" font-weight="bold" text-anchor="middle">7</text>
<text x="425.38" y="1104.2" font-size="21" font-weight="bold" text-anchor="middle">8</text>
<text x="465.54" y="1104.2" font-size="21" font-weight="bold" text-anchor="middle">9</text>
<text x="505.7" y="1104.2" font-size="21" font-weight="bold" text-anchor="middle">10</text>
<text x="545.86" y="1104.2" font-size="21" font-weight="bold" text-anchor="middle">11</text>
<text x="586.02" y="1104.2" font-size="21" font-weight="bold" text-anchor="middle">12</text>
<text x="626.18" y="1104.2" font-size="21" font-weight="bold" text-anchor="middle">13</text>
<text x="666.34" y="1104.2" font-size="21" font-weight="bold" text-anchor="middle">14</text>
<text x="706.5" y="1104.2" font-size="21" font-weight="bold" text-anchor="middle">15</text>
<text x="89.3" y="1040.2" font-size="21" font-weight="bold" text-anchor="end">0</text>
<text x="89.3" y="959.2" font-size="21" font-weight="bold" text-anchor="end">2</text>
<text x="89.3" y="878.2" font-size="21" font-weight="bold" text-anchor="end">4</text>
<text x="89.3" y="797.2" font-size="21" font-weight="bold" text-anchor="end">6</text>
<text x="89.3" y="716.2" font-size="21" font-weight="bold" text-anchor="end">8</text>
<text x="89.3" y="635.2" font-size="21" font-weight="bold" text-anchor="end">10</text>
<text x="405" y="1142.2" font-size="21.7" font-weight="bold" text-anchor="middle">IMF</text>
<text transform="translate(51.3 0) rotate(-90)"><tspan x="-996.76" y="0" font-size="21.8" font-weight="bold">IKAZ Coefficient</tspan><tspan x="-821.59" y="0" font-size="21.8" font-weight="bold">(</tspan><tspan x="-808.25" y="0" font-size="21.8" font-weight="bold">x</tspan><tspan x="-790.57" y="0" font-size="21.8" font-weight="bold">10</tspan><tspan x="-765.09" y="-11" font-size="12.5" font-weight="bold">-10</tspan><tspan x="-746.52" y="0" font-size="21.8" font-weight="bold">)</tspan></text>
<text transform="translate(403.9 1178) scale(1.08 1)" font-size="31.5" font-family='"Liberation Serif", serif' font-weight="bold" text-anchor="middle">(c)</text>
<rect x="491.5" y="644.2" width="194.5" height="161.6" fill="#fff" stroke="#404040" stroke-width="1.5"/>
<text x="500.6" y="667.7" font-size="21" font-weight="bold" textLength="181.2" lengthAdjust="spacingAndGlyphs">Repetition Dataset</text>
<line x1="552.3" y1="686.9" x2="601.6" y2="686.9" stroke="#202020" stroke-width="1.6"/>
<rect x="572" y="681.9" width="10" height="10" fill="#000000"/>
<text x="606.8" y="694.3" font-size="21" font-weight="bold">1</text>
<line x1="552.3" y1="714.2" x2="601.6" y2="714.2" stroke="#ff2020" stroke-width="1.6"/>
<circle cx="577" cy="714.2" r="5.7" fill="#ff0000"/>
<text x="606.8" y="721.6" font-size="21" font-weight="bold">2</text>
<line x1="552.3" y1="740.5" x2="601.6" y2="740.5" stroke="#2020ff" stroke-width="1.6"/>
<path d="M577 732.6L583.6 744.45L570.4 744.45Z" fill="#0000ff"/>
<text x="606.8" y="747.9" font-size="21" font-weight="bold">3</text>
<line x1="552.3" y1="766.3" x2="601.6" y2="766.3" stroke="#ff20ff" stroke-width="1.6"/>
<path d="M570.4 762.35L583.6 762.35L577 774.2Z" fill="#ff00ff"/>
<text x="606.8" y="773.7" font-size="21" font-weight="bold">4</text>
<line x1="552.3" y1="793.8" x2="601.6" y2="793.8" stroke="#208020" stroke-width="1.6"/>
<path d="M577 787.1L583.7 793.8L577 800.5L570.3 793.8Z" fill="#008000"/>
<text x="606.8" y="801.2" font-size="21" font-weight="bold">5</text>
<line x1="881.72" y1="632" x2="881.72" y2="1077.3" stroke="#2c2c90" stroke-width="1.5" stroke-dasharray="2.8 3.7" stroke-dashoffset="0"/>
<line x1="921.84" y1="632" x2="921.84" y2="1077.3" stroke="#2c2c90" stroke-width="1.5" stroke-dasharray="2.8 3.7" stroke-dashoffset="0"/>
<line x1="961.96" y1="632" x2="961.96" y2="1077.3" stroke="#2c2c90" stroke-width="1.5" stroke-dasharray="2.8 3.7" stroke-dashoffset="0"/>
<line x1="1002.08" y1="632" x2="1002.08" y2="1077.3" stroke="#2c2c90" stroke-width="1.5" stroke-dasharray="2.8 3.7" stroke-dashoffset="0"/>
<line x1="1042.2" y1="632" x2="1042.2" y2="1077.3" stroke="#2c2c90" stroke-width="1.5" stroke-dasharray="2.8 3.7" stroke-dashoffset="0"/>
<line x1="1082.32" y1="632" x2="1082.32" y2="1077.3" stroke="#2c2c90" stroke-width="1.5" stroke-dasharray="2.8 3.7" stroke-dashoffset="0"/>
<line x1="1122.44" y1="632" x2="1122.44" y2="1077.3" stroke="#2c2c90" stroke-width="1.5" stroke-dasharray="2.8 3.7" stroke-dashoffset="0"/>
<line x1="1162.56" y1="632" x2="1162.56" y2="1077.3" stroke="#2c2c90" stroke-width="1.5" stroke-dasharray="2.8 3.7" stroke-dashoffset="0"/>
<line x1="1202.68" y1="632" x2="1202.68" y2="1077.3" stroke="#2c2c90" stroke-width="1.5" stroke-dasharray="2.8 3.7" stroke-dashoffset="0"/>
<line x1="1242.8" y1="632" x2="1242.8" y2="1077.3" stroke="#2c2c90" stroke-width="1.5" stroke-dasharray="2.8 3.7" stroke-dashoffset="0"/>
<line x1="1282.92" y1="632" x2="1282.92" y2="1077.3" stroke="#2c2c90" stroke-width="1.5" stroke-dasharray="2.8 3.7" stroke-dashoffset="0"/>
<line x1="1323.04" y1="632" x2="1323.04" y2="1077.3" stroke="#2c2c90" stroke-width="1.5" stroke-dasharray="2.8 3.7" stroke-dashoffset="0"/>
<line x1="1363.16" y1="632" x2="1363.16" y2="1077.3" stroke="#2c2c90" stroke-width="1.5" stroke-dasharray="2.8 3.7" stroke-dashoffset="0"/>
<line x1="1403.28" y1="632" x2="1403.28" y2="1077.3" stroke="#2c2c90" stroke-width="1.5" stroke-dasharray="2.8 3.7" stroke-dashoffset="0"/>
<path d="M881.72 1042.29L921.84 1035.96L961.96 1030.47L1002.08 902.03L1042.2 955.41L1082.32 990.62L1122.44 1009.15L1162.56 1056.06L1202.68 1055.33L1242.8 1053.63L1282.92 1045.22L1323.04 1016.95L1363.16 1024.26L1403.28 1009.15" fill="none" stroke="#202020" stroke-width="1.8" stroke-linejoin="round"/>
<rect x="876.72" y="1037.29" width="10" height="10" fill="#000000"/>
<rect x="916.84" y="1030.96" width="10" height="10" fill="#000000"/>
<rect x="956.96" y="1025.47" width="10" height="10" fill="#000000"/>
<rect x="997.08" y="897.03" width="10" height="10" fill="#000000"/>
<rect x="1037.2" y="950.41" width="10" height="10" fill="#000000"/>
<rect x="1077.32" y="985.62" width="10" height="10" fill="#000000"/>
<rect x="1117.44" y="1004.15" width="10" height="10" fill="#000000"/>
<rect x="1157.56" y="1051.06" width="10" height="10" fill="#000000"/>
<rect x="1197.68" y="1050.33" width="10" height="10" fill="#000000"/>
<rect x="1237.8" y="1048.63" width="10" height="10" fill="#000000"/>
<rect x="1277.92" y="1040.22" width="10" height="10" fill="#000000"/>
<rect x="1318.04" y="1011.95" width="10" height="10" fill="#000000"/>
<rect x="1358.16" y="1019.26" width="10" height="10" fill="#000000"/>
<rect x="1398.28" y="1004.15" width="10" height="10" fill="#000000"/>
<path d="M881.72 1057.28L921.84 1056.55L961.96 1053.87L1002.08 937.01L1042.2 1051.43L1082.32 1057.89L1122.44 1057.89L1162.56 1057.89L1202.68 1057.89L1242.8 1057.89L1282.92 1057.89L1323.04 1057.89L1363.16 1057.89L1403.28 1045.58" fill="none" stroke="#ff2020" stroke-width="1.8" stroke-linejoin="round"/>
<circle cx="881.72" cy="1057.28" r="5.7" fill="#ff0000"/>
<circle cx="921.84" cy="1056.55" r="5.7" fill="#ff0000"/>
<circle cx="961.96" cy="1053.87" r="5.7" fill="#ff0000"/>
<circle cx="1002.08" cy="937.01" r="5.7" fill="#ff0000"/>
<circle cx="1042.2" cy="1051.43" r="5.7" fill="#ff0000"/>
<circle cx="1082.32" cy="1057.89" r="5.7" fill="#ff0000"/>
<circle cx="1122.44" cy="1057.89" r="5.7" fill="#ff0000"/>
<circle cx="1162.56" cy="1057.89" r="5.7" fill="#ff0000"/>
<circle cx="1202.68" cy="1057.89" r="5.7" fill="#ff0000"/>
<circle cx="1242.8" cy="1057.89" r="5.7" fill="#ff0000"/>
<circle cx="1282.92" cy="1057.89" r="5.7" fill="#ff0000"/>
<circle cx="1323.04" cy="1057.89" r="5.7" fill="#ff0000"/>
<circle cx="1363.16" cy="1057.89" r="5.7" fill="#ff0000"/>
<circle cx="1403.28" cy="1045.58" r="5.7" fill="#ff0000"/>
<path d="M881.72 1020.53L921.84 1028.82L961.96 1038.44L1002.08 695.89L1042.2 831.16L1082.32 918.29L1122.44 1044.78L1162.56 1045.51L1202.68 1036.37L1242.8 1046.49L1282.92 1035.76L1323.04 1040.39L1363.16 1055.63L1403.28 1042.83" fill="none" stroke="#2020ff" stroke-width="1.8" stroke-linejoin="round"/>
<path d="M881.72 1012.63L888.32 1024.48L875.12 1024.48Z" fill="#0000ff"/>
<path d="M921.84 1020.92L928.44 1032.77L915.24 1032.77Z" fill="#0000ff"/>
<path d="M961.96 1030.54L968.56 1042.39L955.36 1042.39Z" fill="#0000ff"/>
<path d="M1002.08 687.99L1008.68 699.84L995.48 699.84Z" fill="#0000ff"/>
<path d="M1042.2 823.26L1048.8 835.11L1035.6 835.11Z" fill="#0000ff"/>
<path d="M1082.32 910.39L1088.92 922.24L1075.72 922.24Z" fill="#0000ff"/>
<path d="M1122.44 1036.88L1129.04 1048.73L1115.84 1048.73Z" fill="#0000ff"/>
<path d="M1162.56 1037.61L1169.16 1049.46L1155.96 1049.46Z" fill="#0000ff"/>
<path d="M1202.68 1028.47L1209.28 1040.32L1196.08 1040.32Z" fill="#0000ff"/>
<path d="M1242.8 1038.59L1249.4 1050.44L1236.2 1050.44Z" fill="#0000ff"/>
<path d="M1282.92 1027.86L1289.52 1039.71L1276.32 1039.71Z" fill="#0000ff"/>
<path d="M1323.04 1032.49L1329.64 1044.34L1316.44 1044.34Z" fill="#0000ff"/>
<path d="M1363.16 1047.73L1369.76 1059.58L1356.56 1059.58Z" fill="#0000ff"/>
<path d="M1403.28 1034.93L1409.88 1046.78L1396.68 1046.78Z" fill="#0000ff"/>
<path d="M881.72 1040.29L921.84 1043.46L961.96 1007.02L1002.08 644.61L1042.2 940.25L1082.32 1016.53L1122.44 1054.84L1162.56 1047.36L1202.68 1038.34L1242.8 1047.36L1282.92 1046.26L1323.04 1054.84L1363.16 1054.23L1403.28 1046.44" fill="none" stroke="#ff20ff" stroke-width="1.8" stroke-linejoin="round"/>
<path d="M875.12 1036.34L888.32 1036.34L881.72 1048.19Z" fill="#ff00ff"/>
<path d="M915.24 1039.51L928.44 1039.51L921.84 1051.36Z" fill="#ff00ff"/>
<path d="M955.36 1003.07L968.56 1003.07L961.96 1014.92Z" fill="#ff00ff"/>
<path d="M995.48 640.66L1008.68 640.66L1002.08 652.51Z" fill="#ff00ff"/>
<path d="M1035.6 936.3L1048.8 936.3L1042.2 948.15Z" fill="#ff00ff"/>
<path d="M1075.72 1012.58L1088.92 1012.58L1082.32 1024.43Z" fill="#ff00ff"/>
<path d="M1115.84 1050.89L1129.04 1050.89L1122.44 1062.74Z" fill="#ff00ff"/>
<path d="M1155.96 1043.41L1169.16 1043.41L1162.56 1055.26Z" fill="#ff00ff"/>
<path d="M1196.08 1034.39L1209.28 1034.39L1202.68 1046.24Z" fill="#ff00ff"/>
<path d="M1236.2 1043.41L1249.4 1043.41L1242.8 1055.26Z" fill="#ff00ff"/>
<path d="M1276.32 1042.31L1289.52 1042.31L1282.92 1054.16Z" fill="#ff00ff"/>
<path d="M1316.44 1050.89L1329.64 1050.89L1323.04 1062.74Z" fill="#ff00ff"/>
<path d="M1356.56 1050.28L1369.76 1050.28L1363.16 1062.13Z" fill="#ff00ff"/>
<path d="M1396.68 1042.49L1409.88 1042.49L1403.28 1054.34Z" fill="#ff00ff"/>
<path d="M881.72 1057.28L921.84 1056.55L961.96 1056.92L1002.08 1007.32L1042.2 1055.45L1082.32 1057.28L1122.44 1057.89L1162.56 1057.89L1202.68 1058.38L1242.8 1058.5L1282.92 1058.5L1323.04 1058.01L1363.16 1058.5L1403.28 1054.36" fill="none" stroke="#208020" stroke-width="1.8" stroke-linejoin="round"/>
<path d="M881.72 1050.58L888.42 1057.28L881.72 1063.98L875.02 1057.28Z" fill="#008000"/>
<path d="M921.84 1049.85L928.54 1056.55L921.84 1063.25L915.14 1056.55Z" fill="#008000"/>
<path d="M961.96 1050.22L968.66 1056.92L961.96 1063.62L955.26 1056.92Z" fill="#008000"/>
<path d="M1002.08 1000.62L1008.78 1007.32L1002.08 1014.02L995.38 1007.32Z" fill="#008000"/>
<path d="M1042.2 1048.75L1048.9 1055.45L1042.2 1062.15L1035.5 1055.45Z" fill="#008000"/>
<path d="M1082.32 1050.58L1089.02 1057.28L1082.32 1063.98L1075.62 1057.28Z" fill="#008000"/>
<path d="M1122.44 1051.19L1129.14 1057.89L1122.44 1064.59L1115.74 1057.89Z" fill="#008000"/>
<path d="M1162.56 1051.19L1169.26 1057.89L1162.56 1064.59L1155.86 1057.89Z" fill="#008000"/>
<path d="M1202.68 1051.68L1209.38 1058.38L1202.68 1065.08L1195.98 1058.38Z" fill="#008000"/>
<path d="M1242.8 1051.8L1249.5 1058.5L1242.8 1065.2L1236.1 1058.5Z" fill="#008000"/>
<path d="M1282.92 1051.8L1289.62 1058.5L1282.92 1065.2L1276.22 1058.5Z" fill="#008000"/>
<path d="M1323.04 1051.31L1329.74 1058.01L1323.04 1064.71L1316.34 1058.01Z" fill="#008000"/>
<path d="M1363.16 1051.8L1369.86 1058.5L1363.16 1065.2L1356.46 1058.5Z" fill="#008000"/>
<path d="M1403.28 1047.66L1409.98 1054.36L1403.28 1061.06L1396.58 1054.36Z" fill="#008000"/>
<rect x="841.6" y="632" width="601.8" height="445.3" fill="none" stroke="#404040" stroke-width="1.8"/>
<path d="M841.6 1077.3v8.4M881.72 1077.3v8.4M881.72 632v10.8M921.84 1077.3v8.4M921.84 632v10.8M961.96 1077.3v8.4M961.96 632v10.8M1002.08 1077.3v8.4M1002.08 632v10.8M1042.2 1077.3v8.4M1042.2 632v10.8M1082.32 1077.3v8.4M1082.32 632v10.8M1122.44 1077.3v8.4M1122.44 632v10.8M1162.56 1077.3v8.4M1162.56 632v10.8M1202.68 1077.3v8.4M1202.68 632v10.8M1242.8 1077.3v8.4M1242.8 632v10.8M1282.92 1077.3v8.4M1282.92 632v10.8M1323.04 1077.3v8.4M1323.04 632v10.8M1363.16 1077.3v8.4M1363.16 632v10.8M1403.28 1077.3v8.4M1403.28 632v10.8M1443.4 1077.3v8.4M841.6 1058.5h-8.5M841.6 997.57h-8.5M841.6 936.64h-8.5M841.6 875.71h-8.5M841.6 814.78h-8.5M841.6 753.85h-8.5M841.6 692.92h-8.5M841.6 631.99h-8.5M841.6 1028.04h-4M841.6 967.11h-4M841.6 906.17h-4M841.6 845.25h-4M841.6 784.32h-4M841.6 723.38h-4M841.6 662.45h-4M1443.4 1058.5h-8.5M1443.4 997.57h-8.5M1443.4 936.64h-8.5M1443.4 875.71h-8.5M1443.4 814.78h-8.5M1443.4 753.85h-8.5M1443.4 692.92h-8.5M1443.4 1028.04h-4M1443.4 967.11h-4M1443.4 906.17h-4M1443.4 845.25h-4M1443.4 784.32h-4M1443.4 723.38h-4M1443.4 662.45h-4" stroke="#202020" stroke-width="1.6" fill="none"/>
<text x="841.6" y="1106.5" font-size="21" font-weight="bold" text-anchor="middle">0</text>
<text x="881.72" y="1106.5" font-size="21" font-weight="bold" text-anchor="middle">1</text>
<text x="921.84" y="1106.5" font-size="21" font-weight="bold" text-anchor="middle">2</text>
<text x="961.96" y="1106.5" font-size="21" font-weight="bold" text-anchor="middle">3</text>
<text x="1002.08" y="1106.5" font-size="21" font-weight="bold" text-anchor="middle">4</text>
<text x="1042.2" y="1106.5" font-size="21" font-weight="bold" text-anchor="middle">5</text>
<text x="1082.32" y="1106.5" font-size="21" font-weight="bold" text-anchor="middle">6</text>
<text x="1122.44" y="1106.5" font-size="21" font-weight="bold" text-anchor="middle">7</text>
<text x="1162.56" y="1106.5" font-size="21" font-weight="bold" text-anchor="middle">8</text>
<text x="1202.68" y="1106.5" font-size="21" font-weight="bold" text-anchor="middle">9</text>
<text x="1242.8" y="1106.5" font-size="21" font-weight="bold" text-anchor="middle">10</text>
<text x="1282.92" y="1106.5" font-size="21" font-weight="bold" text-anchor="middle">11</text>
<text x="1323.04" y="1106.5" font-size="21" font-weight="bold" text-anchor="middle">12</text>
<text x="1363.16" y="1106.5" font-size="21" font-weight="bold" text-anchor="middle">13</text>
<text x="1403.28" y="1106.5" font-size="21" font-weight="bold" text-anchor="middle">14</text>
<text x="1443.4" y="1106.5" font-size="21" font-weight="bold" text-anchor="middle">15</text>
<text x="828" y="1064.1" font-size="21" font-weight="bold" text-anchor="end">0</text>
<text x="828" y="1003.17" font-size="21" font-weight="bold" text-anchor="end">5</text>
<text x="828" y="942.24" font-size="21" font-weight="bold" text-anchor="end">10</text>
<text x="828" y="881.31" font-size="21" font-weight="bold" text-anchor="end">15</text>
<text x="828" y="820.38" font-size="21" font-weight="bold" text-anchor="end">20</text>
<text x="828" y="759.45" font-size="21" font-weight="bold" text-anchor="end">25</text>
<text x="828" y="698.52" font-size="21" font-weight="bold" text-anchor="end">30</text>
<text x="828" y="637.59" font-size="21" font-weight="bold" text-anchor="end">35</text>
<text x="1142.9" y="1144.7" font-size="21.7" font-weight="bold" text-anchor="middle">IMF</text>
<text transform="translate(790 0) rotate(-90)"><tspan x="-1006.46" y="0" font-size="21.9" font-weight="bold">NIKAZ Coefficient</tspan><tspan x="-816.79" y="0" font-size="21.9" font-weight="bold">(</tspan><tspan x="-803.55" y="0" font-size="21.9" font-weight="bold">x</tspan><tspan x="-785.48" y="0" font-size="21.9" font-weight="bold">10</tspan><tspan x="-760.49" y="-12" font-size="12.5" font-weight="bold">-12</tspan><tspan x="-741.52" y="0" font-size="21.9" font-weight="bold">)</tspan></text>
<text transform="translate(1140.2 1180.3) scale(1.08 1)" font-size="31.5" font-family='"Liberation Serif", serif' font-weight="bold" text-anchor="middle">(d)</text>
<rect x="1231.5" y="644.2" width="194.8" height="160.2" fill="#fff" stroke="#404040" stroke-width="1.5"/>
<text x="1240.6" y="667.7" font-size="21" font-weight="bold" textLength="181.2" lengthAdjust="spacingAndGlyphs">Repetition Dataset</text>
<line x1="1292.3" y1="686.6" x2="1342" y2="686.6" stroke="#202020" stroke-width="1.6"/>
<rect x="1311.7" y="681.6" width="10" height="10" fill="#000000"/>
<text x="1346.8" y="694" font-size="21" font-weight="bold">1</text>
<line x1="1292.3" y1="713.2" x2="1342" y2="713.2" stroke="#ff2020" stroke-width="1.6"/>
<circle cx="1316.7" cy="713.2" r="5.7" fill="#ff0000"/>
<text x="1346.8" y="720.6" font-size="21" font-weight="bold">2</text>
<line x1="1292.3" y1="739.2" x2="1342" y2="739.2" stroke="#2020ff" stroke-width="1.6"/>
<path d="M1316.7 731.3L1323.3 743.15L1310.1 743.15Z" fill="#0000ff"/>
<text x="1346.8" y="746.6" font-size="21" font-weight="bold">3</text>
<line x1="1292.3" y1="766.3" x2="1342" y2="766.3" stroke="#ff20ff" stroke-width="1.6"/>
<path d="M1310.1 762.35L1323.3 762.35L1316.7 774.2Z" fill="#ff00ff"/>
<text x="1346.8" y="773.7" font-size="21" font-weight="bold">4</text>
<line x1="1292.3" y1="792.6" x2="1342" y2="792.6" stroke="#208020" stroke-width="1.6"/>
<path d="M1316.7 785.9L1323.4 792.6L1316.7 799.3L1310 792.6Z" fill="#008000"/>
<text x="1346.8" y="800" font-size="21" font-weight="bold">5</text>
</svg></body></html>
